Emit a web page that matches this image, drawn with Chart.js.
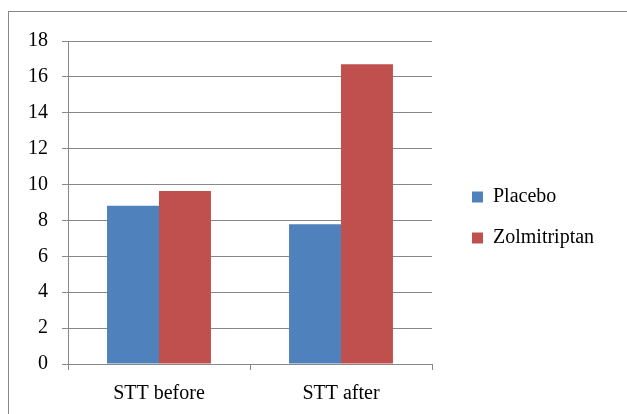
<!DOCTYPE html>
<html>
<head>
<meta charset="utf-8">
<script src="https://cdn.jsdelivr.net/npm/chart.js@4.4.0/dist/chart.umd.min.js"></script>
<style>
  html, body { margin: 0; padding: 0; background: #fff; }
  #wrap { position: relative; width: 627px; height: 414px; }
  #frame {
    position: absolute; left: 8px; top: 11px; right: 0; bottom: 0;
    border-left: 1px solid #888; border-top: 1px solid #888;
    pointer-events: none;
  }
</style>
</head>
<body>
<div id="wrap">
  <canvas id="chart" width="627" height="414"></canvas>
  <div id="frame"></div>
</div>
<script>
const categories = ['STT before', 'STT after'];
const placebo = [8.82, 7.79];
const zolmitriptan = [9.64, 16.7];
const seriesNames = ['Placebo', 'Zolmitriptan'];

const axisColor = '#888888';
const fontFamily = '"Liberation Serif", "Times New Roman", serif';
const fontSize = 20;

// legend sits right of the plot, nudged to where Excel puts it
const legendTweak = {
  id: 'legendTweak',
  afterInit(chart) {
    const fit = chart.legend.fit;
    chart.legend.fit = function () {
      fit.call(this);
      this.width = 195;
    };
  },
  afterLayout(chart) {
    const lg = chart.legend;
    lg.left += 19; lg.right += 19;
    lg.top -= 10; lg.bottom -= 10;
  }
};

const ctx = document.getElementById('chart').getContext('2d');
new Chart(ctx, {
  type: 'bar',
  data: {
    labels: categories,
    datasets: [
      { label: seriesNames[0], data: placebo, backgroundColor: '#4F81BD' },
      { label: seriesNames[1], data: zolmitriptan, backgroundColor: '#C0504D' }
    ]
  },
  options: {
    responsive: false,
    animation: false,
    layout: { padding: { top: 41, left: 0, right: 0, bottom: 0 } },
    datasets: { bar: { categoryPercentage: 0.571, barPercentage: 1.0 } },
    plugins: {
      tooltip: { enabled: false },
      legend: {
        position: 'right',
        labels: {
          boxWidth: 11,
          boxHeight: 11,
          padding: 21,
          color: '#000',
          font: { family: fontFamily, size: fontSize }
        }
      }
    },
    scales: {
      x: {
        afterFit(scale) { scale.height = 50; },
        grid: { drawOnChartArea: false, tickLength: 6, color: axisColor },
        border: { color: axisColor },
        ticks: { padding: 12, color: '#000', font: { family: fontFamily, size: fontSize } }
      },
      y: {
        min: 0,
        max: 18,
        afterFit(scale) { scale.width = 68; },
        grid: { tickLength: 6, color: axisColor },
        border: { color: axisColor },
        ticks: { stepSize: 2, padding: 14, color: '#000', font: { family: fontFamily, size: fontSize } }
      }
    }
  },
  plugins: [legendTweak]
});
</script>
</body>
</html>
